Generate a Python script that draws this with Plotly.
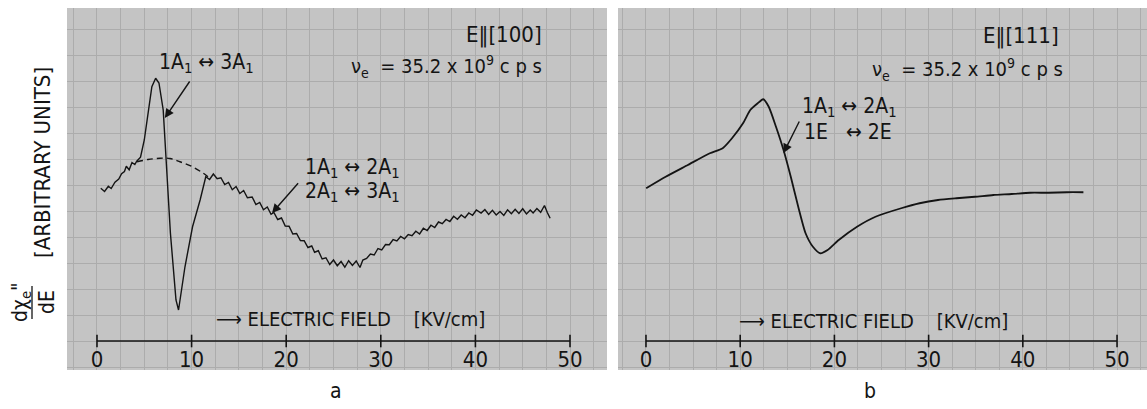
import plotly.graph_objects as go

# ---------------- data ----------------
# Panel a: E || [100]  (electric field kV/cm, signal in arbitrary units)
a_x = [0.4, 0.8, 1.2, 1.5, 1.9, 2.3, 2.6, 2.9, 3.1, 3.4, 3.7, 4.0, 4.2, 4.6,
       5.0, 5.4, 5.8, 6.2, 6.55, 7.0, 7.37, 7.76, 8.35, 8.62, 9.3, 10.1, 10.9,
       11.2, 11.5, 11.9, 12.3, 12.7, 13.1, 13.5, 13.9, 14.3, 14.7, 15.1, 15.5,
       15.9, 16.4, 16.8, 17.2, 17.6, 18.0, 18.4, 18.7, 19.1, 19.5, 19.9, 20.3,
       20.7, 21.1, 21.5, 21.9, 22.3, 22.7, 23.0, 23.4, 23.8, 24.2, 24.6, 25.0,
       25.4, 25.8, 26.2, 26.6, 27.0, 27.4, 27.8, 28.1, 28.5, 28.9, 29.3, 29.7,
       30.1, 30.5, 30.9, 31.3, 31.7, 32.1, 32.5, 32.9, 33.3, 33.7, 34.1, 34.5,
       34.9, 35.3, 35.7, 36.1, 36.5, 36.9, 37.3, 37.7, 38.1, 38.5, 38.9, 39.3,
       39.7, 40.1, 40.6, 41.0, 41.4, 41.8, 42.2, 42.6, 43.0, 43.4, 43.8, 44.2,
       44.6, 45.0, 45.4, 45.8, 46.1, 46.5, 46.9, 47.3, 47.6, 47.9]
a_y = [61.1, 59.8, 61.9, 61.0, 63.5, 64.8, 66.9, 67.8, 69.9, 68.5, 71.4, 70.6,
       71.9, 73.5, 80.4, 91.2, 101.7, 105.1, 103.2, 92.4, 69.7, 43.2, 16.4, 12.4,
       29.7, 45.7, 56.4, 61.7, 65.7, 64.6, 66.8, 64.9, 65.3, 62.6, 63.4, 60.5,
       61.8, 59.0, 60.2, 57.3, 57.6, 54.6, 55.4, 52.5, 53.6, 50.7, 51.4, 48.6,
       49.2, 46.0, 45.9, 42.8, 43.0, 40.2, 40.1, 37.4, 38.0, 35.5, 36.1, 32.8,
       33.3, 30.6, 32.4, 30.1, 31.8, 29.5, 32.1, 30.2, 32.0, 29.4, 32.4, 33.0,
       34.8, 34.4, 37.0, 36.4, 38.6, 38.5, 40.6, 40.0, 41.8, 40.9, 42.6, 42.1,
       43.9, 42.8, 45.1, 44.2, 46.3, 45.4, 47.6, 46.9, 48.6, 47.8, 49.9, 48.7,
       50.4, 49.3, 51.2, 50.3, 52.4, 51.2, 52.6, 50.6, 52.3, 50.4, 51.8, 50.2,
       52.5, 50.9, 52.7, 51.0, 52.9, 50.8, 52.4, 51.2, 53.0, 51.5, 54.2, 51.4,
       49.1]
# dashed background (baseline under the 1A1<->3A1 line)
a_base_x = [4.23, 5.39, 6.66, 7.72, 8.77, 10.04, 11.24, 11.73]
a_base_y = [71.7, 72.6, 73.1, 73.0, 71.7, 69.8, 67.1, 65.7]

# Panel b: E || [111]
b_x = [0.02, 2.09, 4.44, 6.78, 8.14, 9.13, 10.30, 11.07, 11.86, 12.44, 13.03,
       13.80, 14.60, 15.37, 16.16, 16.94, 17.72, 18.50, 19.28, 20.46, 22.40,
       24.36, 27.09, 29.04, 31.00, 32.95, 34.92, 36.87, 38.82, 40.76, 42.73,
       44.68, 46.43]
b_y = [61.1, 65.7, 70.4, 75.1, 77.1, 81.1, 87.1, 92.4, 95.1, 96.7, 93.7, 85.7,
       76.4, 65.7, 53.7, 43.1, 37.7, 35.1, 36.4, 40.4, 45.7, 49.7, 53.1, 55.1,
       56.4, 57.1, 57.7, 58.4, 58.8, 59.3, 59.3, 59.5, 59.5]

tick_vals = [0, 10, 20, 30, 40, 50]
tick_text = ["0", "10", "20", "30", "40", "50"]

# ---------------- styling ----------------
FONT = "Liberation Sans Narrow, DejaVu Sans Condensed, Arial Narrow, Liberation Sans, sans-serif"
INK = "#141414"
PAPER_GRAY = "#c4c4c4"
GRID = "#acacac"
W, H = 1147, 409
ML, MR, MT, MB = 0, 0, 8, 39
PH = H - MT - MB


def py(p):
    return 1 - (p - MT) / PH


fig = go.Figure()

# curves
fig.add_trace(go.Scatter(x=a_x, y=a_y, mode="lines", line=dict(color=INK, width=1.4),
                         xaxis="x", yaxis="y", hoverinfo="skip"))
fig.add_trace(go.Scatter(x=a_base_x, y=a_base_y, mode="lines",
                         line=dict(color=INK, width=1.4, dash="6px,4px", shape="spline"),
                         xaxis="x", yaxis="y", hoverinfo="skip"))
fig.add_trace(go.Scatter(x=b_x, y=b_y, mode="lines",
                         line=dict(color=INK, width=1.8, shape="spline", smoothing=0.6),
                         xaxis="x2", yaxis="y2", hoverinfo="skip"))

# field axis lines with tick marks (drawn inside each panel)
for xa, ya in (("x", "y"), ("x2", "y2")):
    fig.add_trace(go.Scatter(x=[tick_vals[0], tick_vals[-1]], y=[0, 0], mode="lines",
                             line=dict(color=INK, width=1.6), xaxis=xa, yaxis=ya,
                             hoverinfo="skip"))
    fig.add_trace(go.Scatter(x=tick_vals, y=[0] * len(tick_vals), mode="markers",
                             marker=dict(symbol="line-ns", size=9,
                                         line=dict(color=INK, width=1.6)),
                             xaxis=xa, yaxis=ya, hoverinfo="skip"))

xcommon = dict(tickvals=tick_vals, ticktext=tick_text, ticks="", showline=False,
               zeroline=False, showgrid=True, gridcolor=GRID, gridwidth=1,
               minor=dict(dtick=2.5, showgrid=True, gridcolor=GRID, gridwidth=0.6),
               tickfont=dict(family=FONT, size=22, color=INK),
               anchor="free", position=py(344))
ycommon = dict(range=[-11.6, 133.2], showticklabels=False, ticks="", zeroline=False,
               showline=False, showgrid=True, gridcolor=GRID, gridwidth=0.6, dtick=10.4,
               domain=[0, 1])

fig.update_layout(
    width=W, height=H, margin=dict(l=ML, r=MR, t=MT, b=MB),
    paper_bgcolor="white", plot_bgcolor=PAPER_GRAY, showlegend=False,
    font=dict(family=FONT, color=INK),
    xaxis=dict(domain=[67 / W, 607 / W], range=[-3.17, 53.91], **xcommon),
    xaxis2=dict(domain=[618 / W, 1.0], range=[-2.97, 53.18], **xcommon),
    yaxis=dict(anchor="x", **ycommon),
    yaxis2=dict(anchor="x2", **ycommon),
)

ann = []


def txt(x, y, s, xref, yref, xanchor="center", size=20):
    ann.append(dict(x=x, y=y, xref=xref, yref=yref, text=s, showarrow=False,
                    xanchor=xanchor, yanchor="middle",
                    font=dict(family=FONT, size=size, color=INK)))


def arrow(xt, yt, xa, ya, xref, yref):
    ann.append(dict(x=xt, y=yt, ax=xa, ay=ya, xref=xref, yref=yref, axref=xref,
                    ayref=yref, text="", showarrow=True, arrowhead=2, arrowsize=1.3,
                    arrowwidth=1.4, arrowcolor=INK))


# panel a texts
txt(47.2, 122.4, "E‖[100]", "x", "y", "right", 22)
txt(47.2, 110.0, "ν<sub>e</sub>  = 35.2 x 10<sup>9</sup> c p s", "x", "y", "right", 20)
txt(11.6, 111.2, "1A<sub>1</sub> ↔ 3A<sub>1</sub>", "x", "y", "center", 21)
arrow(7.17, 89.2, 9.9, 104.4, "x", "y")
txt(21.8, 69.2, "1A<sub>1</sub> ↔ 2A<sub>1</sub>", "x", "y", "left", 21)
txt(21.8, 59.6, "2A<sub>1</sub> ↔ 3A<sub>1</sub>", "x", "y", "left", 21)
arrow(18.5, 51.2, 21.4, 63.7, "x", "y")
txt(12.4, 8.8, "⟶ ELECTRIC FIELD    [KV/cm]", "x", "y", "left", 20)

# panel b texts
txt(44.1, 122.0, "E‖[111]", "x2", "y2", "right", 22)
txt(44.5, 108.6, "ν<sub>e</sub>  = 35.2 x 10<sup>9</sup> c p s", "x2", "y2", "right", 20)
txt(16.35, 93.6, "1A<sub>1</sub> ↔ 2A<sub>1</sub>", "x2", "y2", "left", 21)
txt(16.56, 83.6, "1E   ↔ 2E", "x2", "y2", "left", 21)
arrow(14.6, 75.2, 16.35, 88.4, "x2", "y2")
txt(9.7, 8.0, "⟶ ELECTRIC FIELD    [KV/cm]", "x2", "y2", "left", 20)

# shared y label (rotated)
ann.append(dict(x=42 / W, y=py(163), xref="paper", yref="paper", text="[ARBITRARY UNITS]",
                showarrow=False, textangle=-90, xanchor="center", yanchor="middle",
                font=dict(family=FONT, size=22, color=INK)))
ann.append(dict(x=33 / W, y=py(302), xref="paper", yref="paper",
                text="dχ<sub>e</sub>\"<br>dE", showarrow=False, textangle=-90,
                xanchor="center", yanchor="middle",
                font=dict(family=FONT, size=21, color=INK)))

# panel letters
txt(336 / W, py(391), "a", "paper", "paper", "center", 21)
txt(870 / W, py(391), "b", "paper", "paper", "center", 21)

fig.update_layout(annotations=ann)
fig.add_shape(type="line", xref="paper", yref="paper", x0=32 / W, x1=32 / W,
              y0=py(286), y1=py(319), line=dict(color=INK, width=1.3))

fig.write_html("out.html")
